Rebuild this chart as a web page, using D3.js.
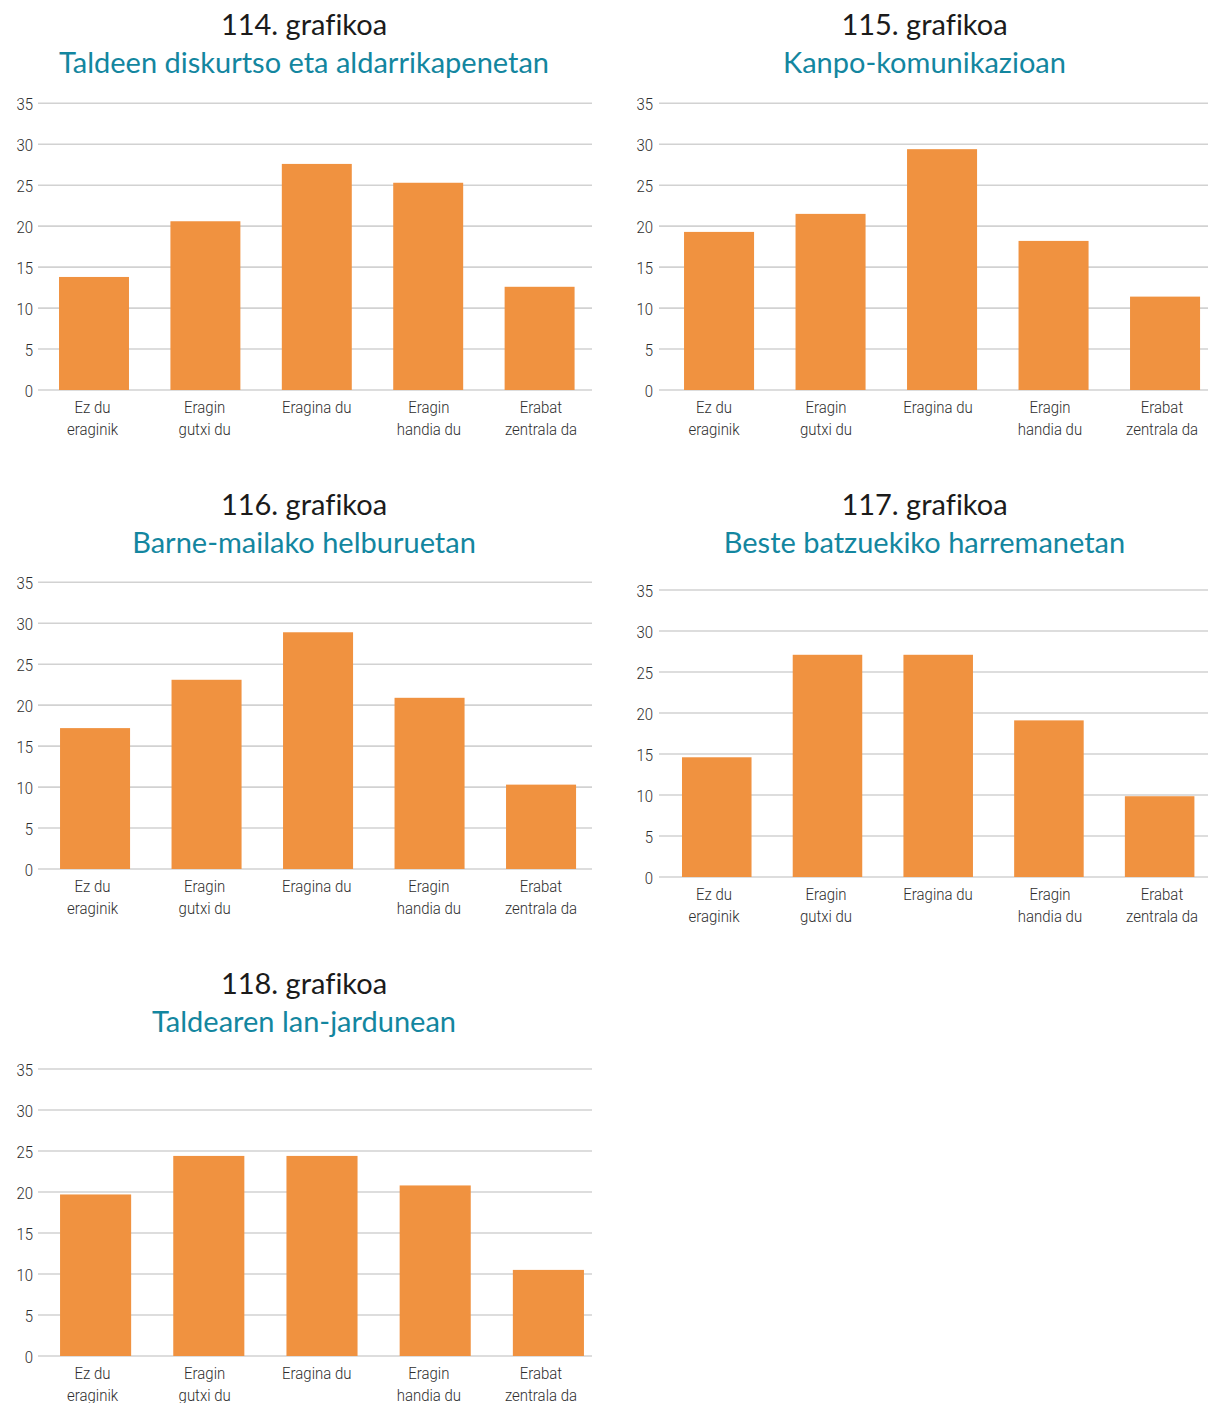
<!DOCTYPE html>
<html>
<head>
<meta charset="utf-8">
<style>
  body { margin: 0; background: #fff; }
  svg text.num, svg text.sub {
    font-family: "Lato", "Noto Sans", sans-serif; font-size: 29px;
    font-variant-ligatures: none;
  }
  svg text.num { fill: #1b1b1b; }
  svg text.sub { fill: #13869f; }
  svg .tick text, svg text.cat {
    font-family: "Roboto", "Liberation Sans", sans-serif;
    font-weight: 300; font-size: 17px; fill: #2e2e2e;
  }
  svg .grid line { stroke: #d2d2d2; stroke-width: 1.6px; }
  svg .domain { display: none; }
</style>
</head>
<body>
<script src="https://cdn.jsdelivr.net/npm/d3@7"></script>
<script>
// category labels (one entry per line)
var categories = [
  ["Ez du", "eraginik"],
  ["Eragin", "gutxi du"],
  ["Eragina du"],
  ["Eragin", "handia du"],
  ["Erabat", "zentrala da"]
];
var yTicks = [0, 5, 10, 15, 20, 25, 30, 35];

var chartNumbers = ["114. grafikoa", "115. grafikoa", "116. grafikoa", "117. grafikoa", "118. grafikoa"];
var subtitles = [
  "Taldeen diskurtso eta aldarrikapenetan",
  "Kanpo-komunikazioan",
  "Barne-mailako helburuetan",
  "Beste batzuekiko harremanetan",
  "Taldearen lan-jardunean"
];

// percentages
var values114 = [13.8, 20.6, 27.6, 25.3, 12.6];
var values115 = [19.3, 21.5, 29.4, 18.2, 11.4];
var values116 = [17.2, 23.1, 28.9, 20.9, 10.3];
var values117 = [14.6, 27.1, 27.1, 19.1, 9.85];
var values118 = [19.7, 24.4, 24.4, 20.8, 10.5];
var allValues = [values114, values115, values116, values117, values118];

// page layout
var W = 1208, H = 1403;
var squeeze = "scale(0.88,1)";   // condensed look for axis texts
var cols = [
  { gridX: [38, 592],  tickX: 33,  labels: [36.5, 597], cx: 304 },
  { gridX: [659, 1208], tickX: 653, labels: [658, 1218], cx: 924.5 }
];
var panels = [
  { col: 0, titleY: 35,  subY: 72.5,  top: 103.3,  bottom: 390,   bars: [38.3, 595.3] },
  { col: 1, titleY: 35,  subY: 72.5,  top: 103.3,  bottom: 390,   bars: [663.3, 1220.8] },
  { col: 0, titleY: 515, subY: 552.5, top: 582.3,  bottom: 869,   bars: [39.3, 596.8] },
  { col: 1, titleY: 515, subY: 552.5, top: 590,    bottom: 877,   bars: [661.4, 1215] },
  { col: 0, titleY: 994, subY: 1031.5, top: 1069,  bottom: 1356,  bars: [39, 605] }
];

var svg = d3.select("body").append("svg")
  .attr("width", W)
  .attr("height", H);

var idx = d3.range(categories.length);

panels.forEach(function (p, k) {
  var c = cols[p.col];
  var g = svg.append("g");

  g.append("text").attr("class", "num")
    .attr("x", c.cx).attr("y", p.titleY)
    .attr("text-anchor", "middle")
    .text(chartNumbers[k]);
  g.append("text").attr("class", "sub")
    .attr("x", c.cx).attr("y", p.subY)
    .attr("text-anchor", "middle")
    .text(subtitles[k]);

  var y = d3.scaleLinear().domain([0, 35]).range([p.bottom, p.top]);

  // gridlines
  g.append("g").attr("class", "grid")
    .selectAll("line")
    .data(yTicks)
    .join("line")
      .attr("x1", c.gridX[0])
      .attr("x2", c.gridX[1])
      .attr("y1", function (d) { return y(d); })
      .attr("y2", function (d) { return y(d); });

  // y axis labels
  var yAxis = d3.axisLeft(y)
    .tickValues(yTicks)
    .tickSize(0)
    .tickPadding(0);
  var ga = g.append("g")
    .attr("transform", "translate(" + c.tickX + ",0)")
    .call(yAxis);
  ga.selectAll(".tick text")
    .attr("dy", "0.36em")
    .attr("transform", squeeze);

  // bars
  var x = d3.scaleBand().domain(idx).range(p.bars)
    .paddingInner(0.372).paddingOuter(0.186);
  g.append("g")
    .selectAll("rect")
    .data(allValues[k])
    .join("rect")
      .attr("x", function (d, i) { return x(i); })
      .attr("y", function (d) { return y(d); })
      .attr("width", x.bandwidth())
      .attr("height", function (d) { return y(0) - y(d); })
      .attr("fill", "#f09240");

  // category labels
  var xl = d3.scaleBand().domain(idx).range(c.labels);
  var lab = g.append("g")
    .selectAll("text")
    .data(categories)
    .join("text")
      .attr("class", "cat")
      .attr("text-anchor", "middle")
      .attr("transform", function (d, i) {
        return "translate(" + (xl(i) + xl.bandwidth() / 2) + "," + (p.bottom + 23) + ") " + squeeze;
      });
  lab.selectAll("tspan")
    .data(function (d) { return d; })
    .join("tspan")
      .attr("x", 0)
      .attr("dy", function (d, i) { return i ? 22 : 0; })
      .text(function (d) { return d; });
});
</script>
</body>
</html>
